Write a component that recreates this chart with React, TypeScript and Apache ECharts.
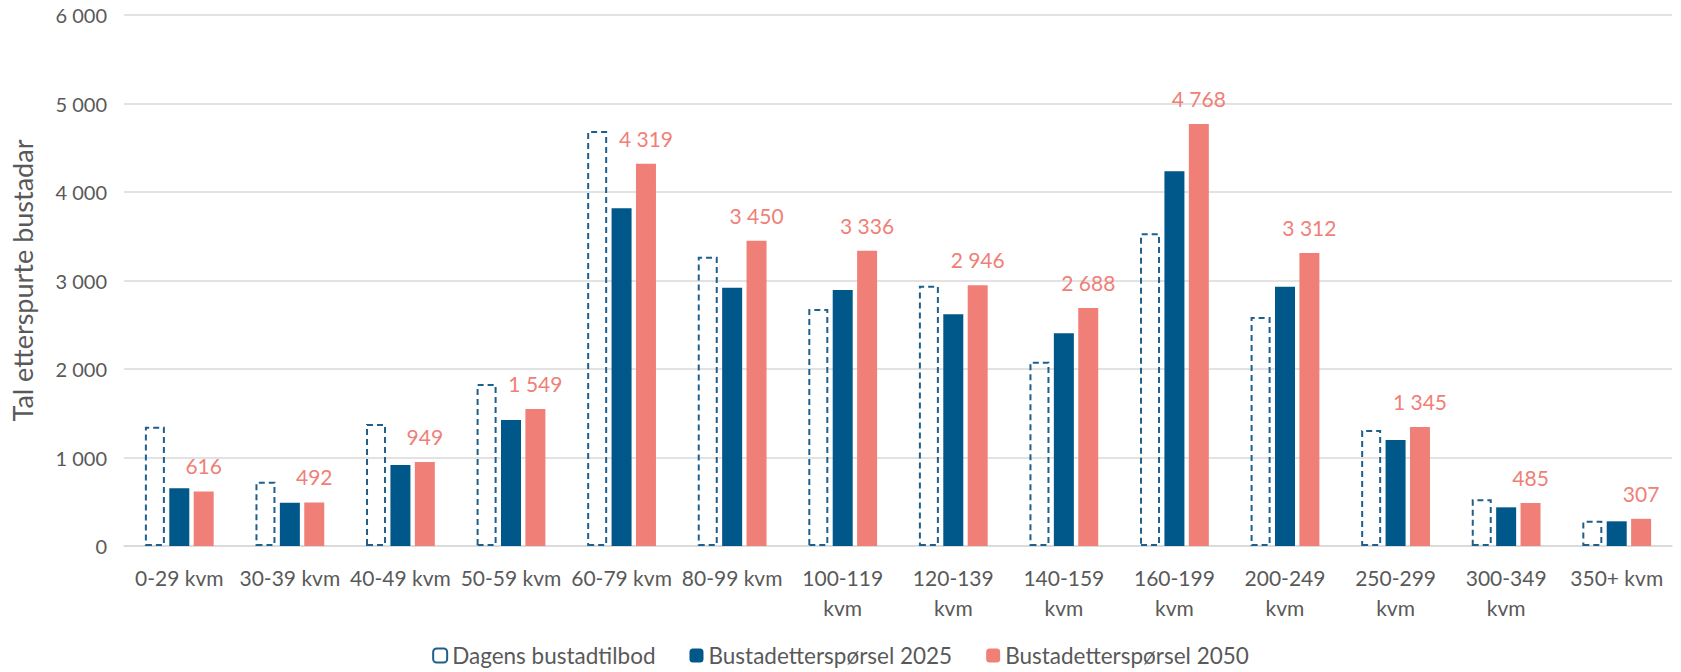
import React, { useEffect, useRef } from "react";
import * as echarts from "echarts";

const categories = [
  "0-29 kvm", "30-39 kvm", "40-49 kvm", "50-59 kvm", "60-79 kvm", "80-99 kvm",
  "100-119 kvm", "120-139 kvm", "140-159 kvm", "160-199 kvm", "200-249 kvm",
  "250-299 kvm", "300-349 kvm", "350+ kvm",
];
const supplyToday = [1348, 727, 1378, 1831, 4689, 3269, 2678, 2941, 2083, 3533, 2588, 1311, 527, 286];
const demand2025 = [652, 489, 915, 1424, 3815, 2919, 2893, 2618, 2403, 4234, 2930, 1198, 437, 279];
const demand2050 = [616, 492, 949, 1549, 4319, 3450, 3336, 2946, 2688, 4768, 3312, 1345, 485, 307];
const seriesNames = ["Dagens bustadtilbod", "Bustadetterspørsel 2025", "Bustadetterspørsel 2050"];
const yAxisTitle = "Tal etterspurte bustadar";

const fmt = (n: number) => String(Math.round(n)).replace(/\B(?=(\d{3})+(?!\d))/g, " ");

const FONT = "Lato";
const TEXT = "#595959";
const BLUE = "#00578A";
const PINK = "#F08077";

export default function App() {
  const ref = useRef<HTMLDivElement>(null);
  useEffect(() => {
    if (!ref.current) return;
    const chart = echarts.init(ref.current, null, { renderer: "svg" });
    chart.setOption({
      animation: false,
      backgroundColor: "#ffffff",
      textStyle: { fontFamily: FONT, color: TEXT },
      grid: { left: 124, right: 9, top: 15, bottom: 126 },
      legend: {
        bottom: 0,
        left: "center",
        itemWidth: 14,
        itemHeight: 14,
        itemGap: 34,
        textStyle: { fontFamily: FONT, fontSize: 22.5, color: TEXT },
        data: seriesNames,
      },
      xAxis: {
        type: "category",
        data: categories,
        axisLine: { lineStyle: { color: "#D9D9D9", width: 1.5 } },
        axisTick: { show: false },
        axisLabel: {
          interval: 0,
          margin: 16,
          fontFamily: FONT,
          fontSize: 21,
          lineHeight: 30,
          color: TEXT,
          formatter: (v: string) => (v.length > 9 ? v.replace(" ", "\n") : v),
        },
      },
      yAxis: {
        type: "value",
        min: 0,
        max: 6000,
        interval: 1000,
        name: yAxisTitle,
        nameLocation: "middle",
        nameGap: 88,
        nameTextStyle: { fontFamily: FONT, fontSize: 27, color: TEXT },
        axisLine: { show: false },
        axisTick: { show: false },
        splitLine: { lineStyle: { color: "#D9D9D9", width: 1.5 } },
        axisLabel: {
          margin: 17,
          fontFamily: FONT,
          fontSize: 20,
          color: TEXT,
          formatter: (v: number) => fmt(v),
        },
      },
      series: [
        {
          name: seriesNames[0],
          type: "bar",
          data: supplyToday,
          barWidth: 20,
          barGap: "22%",
          itemStyle: {
            color: "rgba(255,255,255,0)",
            borderColor: "#1F5F8B",
            borderWidth: 2,
            borderType: [6, 4],
          },
        },
        {
          name: seriesNames[1],
          type: "bar",
          data: demand2025,
          barWidth: 20,
          barGap: "22%",
          itemStyle: { color: BLUE },
        },
        {
          name: seriesNames[2],
          type: "bar",
          data: demand2050,
          barWidth: 20,
          barGap: "22%",
          itemStyle: { color: PINK },
          label: {
            show: true,
            position: "top",
            distance: 15,
            fontFamily: FONT,
            fontSize: 21,
            color: PINK,
            formatter: (p: any) => fmt(p.value),
          },
        },
      ],
    });
    return () => chart.dispose();
  }, []);
  return (
    <div
      ref={ref}
      style={{ position: "fixed", left: 0, top: 0, width: 1681, height: 672 }}
    />
  );
}
